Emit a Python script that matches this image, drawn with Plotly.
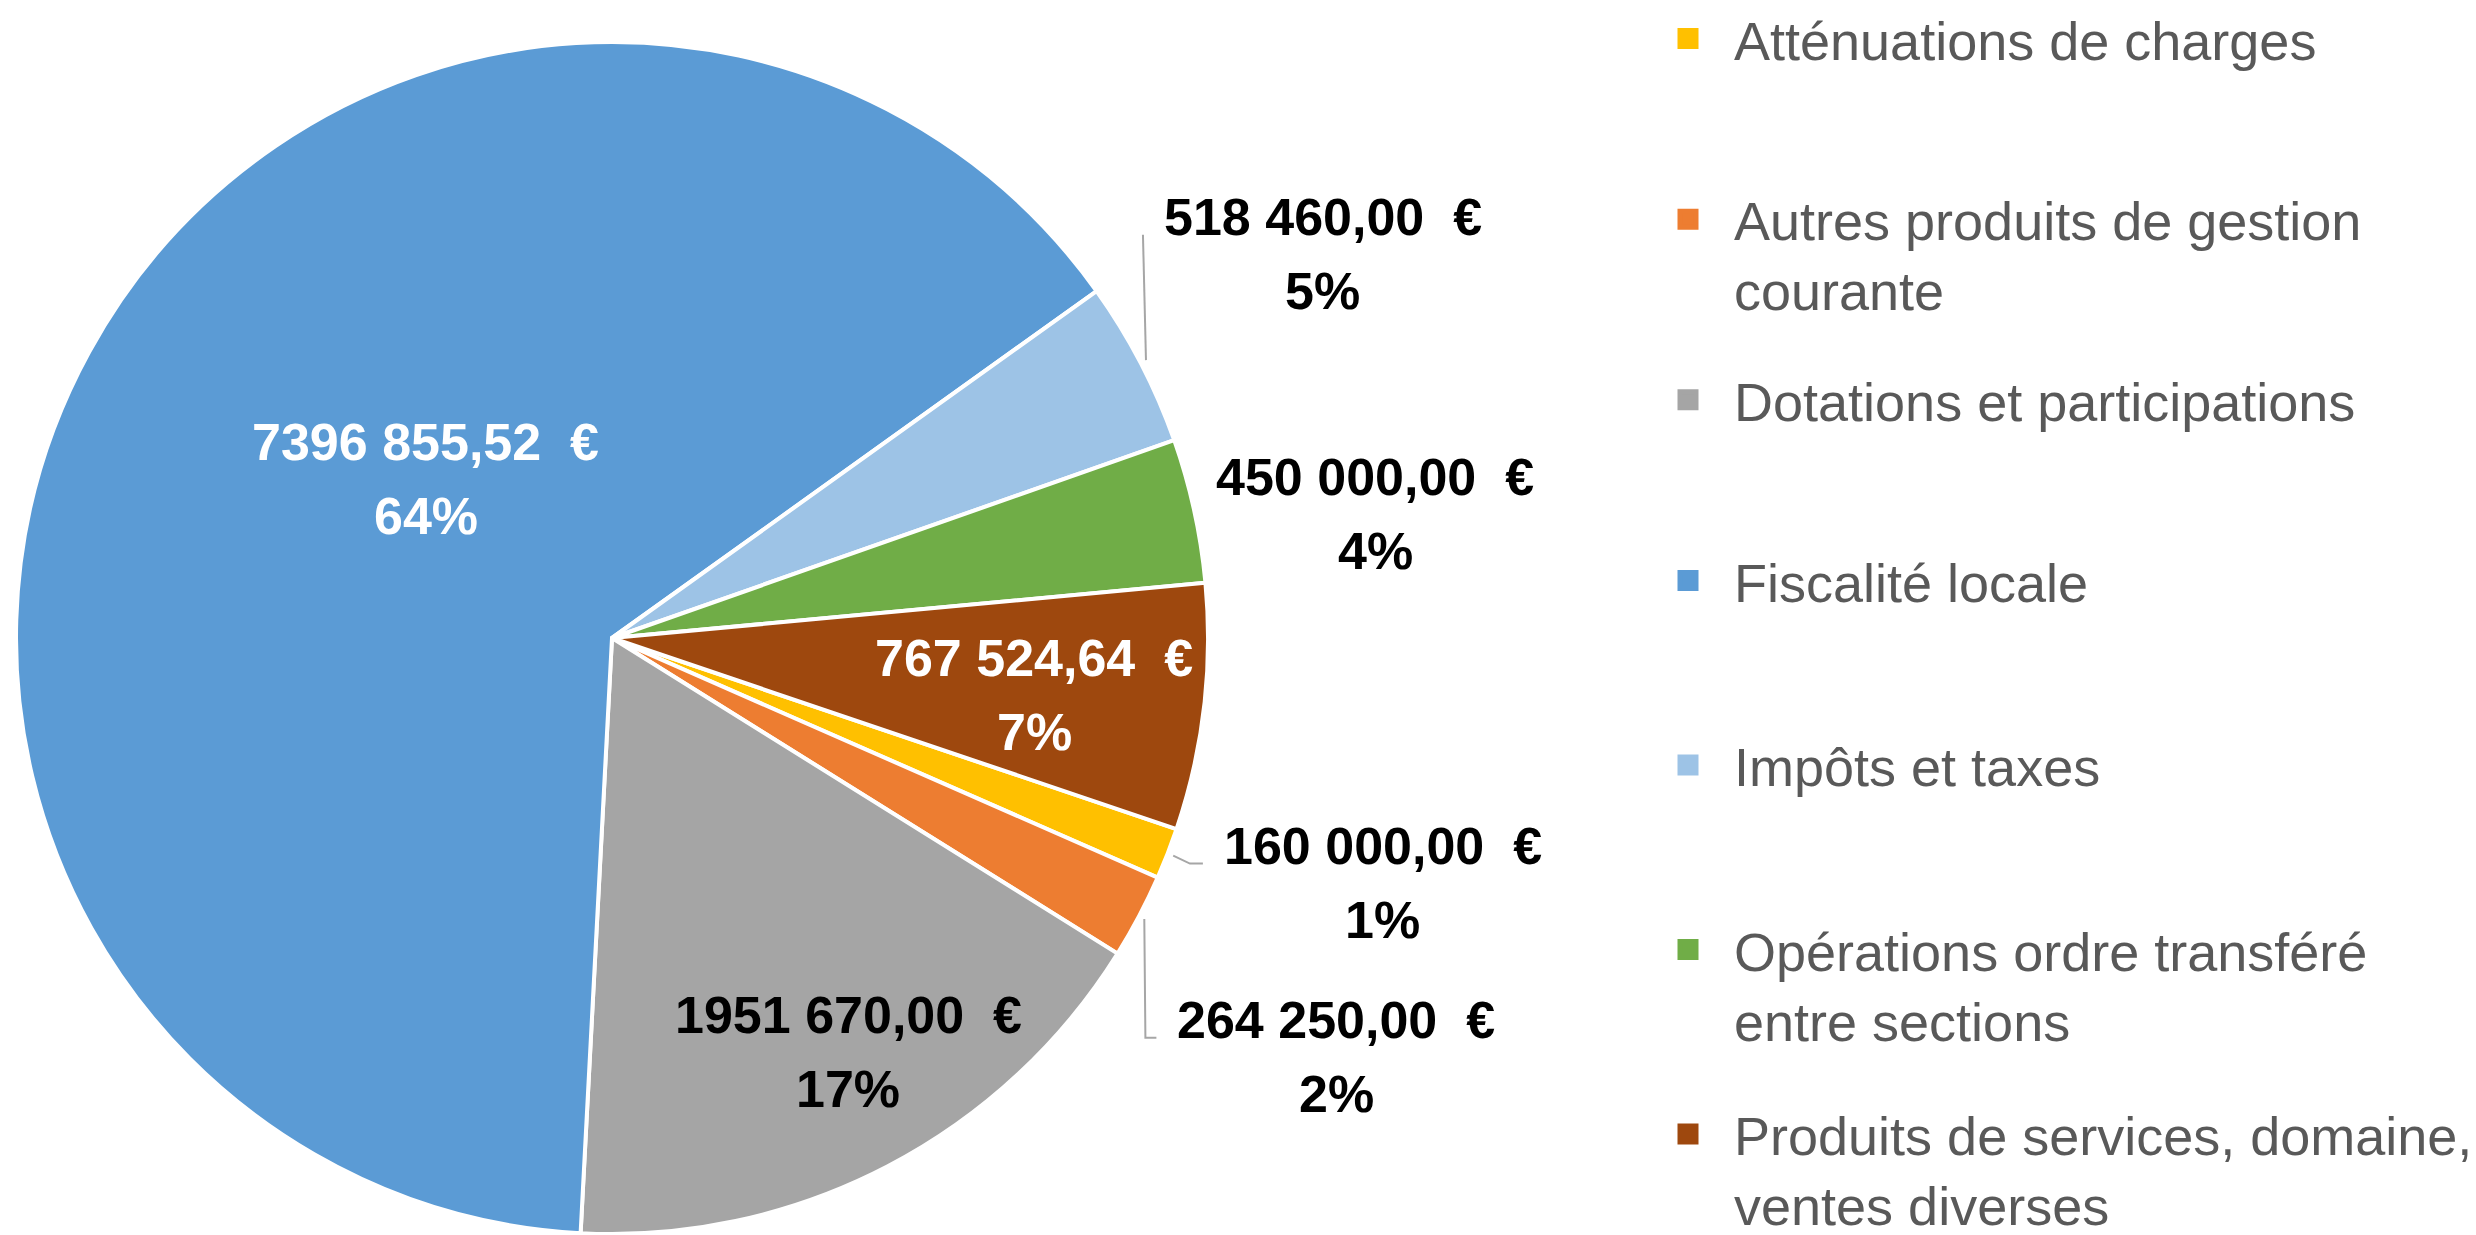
import math
import plotly.graph_objects as go

# ---------------- data ----------------
categories = [
    "Atténuations de charges",
    "Autres produits de gestion courante",
    "Dotations et participations",
    "Fiscalité locale",
    "Impôts et taxes",
    "Opérations ordre transféré entre sections",
    "Produits de services, domaine, ventes diverses",
]
legend_names = [
    "Atténuations de charges<br>\u00a0",
    "Autres produits de gestion<br>courante",
    "Dotations et participations<br>\u00a0",
    "Fiscalité locale<br>\u00a0",
    "Impôts et taxes<br>\u00a0",
    "Opérations ordre transféré<br>entre sections",
    "Produits de services, domaine,<br>ventes diverses",
]
values = [160000.00, 264250.00, 1951670.00, 7396855.52, 518460.00, 450000.00, 767524.64]

# ---------------- style ----------------
colors = ["#FFC000", "#ED7D31", "#A5A5A5", "#5B9BD5", "#9DC3E6", "#70AD47", "#9E480E"]
text_colors = ["#000000", "#000000", "#000000", "#FFFFFF", "#000000", "#000000", "#FFFFFF"]
label_dist = [1.357, 1.404, 0.80, 0.411, 1.356, 1.297, 0.715]      # fraction of radius
label_shift = [-3.6, 2.2, -2.2, 11.8, -0.9, 3.15, 1.0]             # degrees from slice middle
leader_elbow = [13, 11, None, None, 0, None, None]                 # px, None = no leader
legend_ids = ["legend", "legend", "legend", "legend", "legend2", "legend2", "legend2"]

PAGE_OFF = 8                       # default body margin of the html page
W, H = 2476 - PAGE_OFF, 1235 - PAGE_OFF
CX, CY, R = 612 - PAGE_OFF, 638 - PAGE_OFF, 596   # pie centre / radius (figure px)
ROTATION = 108.7
FONT = "Liberation Sans, Arial, sans-serif"
LEG_FS = 54
ITEM_H = 2 * LEG_FS * 1.3 + 3      # plotly legend item height (2 lines)
FIRST_LINE_OFF = 43.5              # legend top -> centre of first text line


def X(px):
    return px / W


def Y(py):
    return 1 - py / H


def fmt_value(v):
    cents = int(round(v * 100))
    euros, c = divmod(cents, 100)
    thousands, units = divmod(euros, 1000)
    return f"{thousands} {units:03d},{c:02d}\u00a0 €"


total = sum(values)

fig = go.Figure()
fig.add_trace(go.Pie(
    labels=categories,
    values=values,
    sort=False,
    direction="clockwise",
    rotation=ROTATION,
    marker=dict(colors=colors, line=dict(color="white", width=4)),
    textinfo="none",
    hoverinfo="skip",
    showlegend=False,
    domain=dict(x=[X(CX - R), X(CX + R)], y=[max(0, Y(CY + R)), Y(CY - R)]),
))

# legend entries
for i, (name, col) in enumerate(zip(legend_names, colors)):
    fig.add_trace(go.Scatter(
        x=[None], y=[None], mode="markers", name=name,
        legendgroup=f"g{i}", legend=legend_ids[i],
        marker=dict(symbol="square", size=16, color=col, line=dict(color=col, width=5)),
        hoverinfo="skip",
    ))

annotations = []
shapes = []
cum = 0.0
for i, v in enumerate(values):
    start = ROTATION + 360 * cum / total
    mid = start + 180 * v / total
    cum += v
    th = math.radians(mid + label_shift[i])
    lx = CX + label_dist[i] * R * math.sin(th)
    ly = CY - label_dist[i] * R * math.cos(th)
    pct = f"{round(100 * v / total):d}%"
    for txt, dy in ((fmt_value(v), -37), (pct, 37)):
        annotations.append(dict(
            x=X(lx), y=Y(ly + dy), xref="paper", yref="paper",
            text=txt, showarrow=False, xanchor="center", yanchor="middle",
            font=dict(family=FONT, size=52, color=text_colors[i], weight="bold"),
        ))
    if leader_elbow[i] is not None:
        tm = math.radians(mid)
        sx = CX + 1.01 * R * math.sin(tm)
        sy = CY - 1.01 * R * math.cos(tm)
        ex, ey = lx - 180, ly - 19
        bx = ex - leader_elbow[i]
        path = f"M {X(sx)},{Y(sy)} L {X(bx)},{Y(ey)} L {X(ex)},{Y(ey)}"
        shapes.append(dict(type="path", path=path, xref="paper", yref="paper",
                           line=dict(color="#A6A6A6", width=2)))

legend_style = dict(
    xanchor="left",
    font=dict(family=FONT, size=LEG_FS, color="#595959"),
    itemwidth=82, valign="top",
    bgcolor="rgba(0,0,0,0)", itemclick=False, itemdoubleclick=False,
)
LEG_X = 1634
# legend 1 (4 items): first text line at window y=41, last at 583
first1, last1 = 41, 583
gap1 = (last1 - first1) / 3 - ITEM_H
top1 = first1 - PAGE_OFF - FIRST_LINE_OFF
bottom1 = top1 + 4 * ITEM_H + 3 * gap1 + 10
# legend 2 (3 items): first text line at window y=767
gap2 = 41
top2 = 767 - PAGE_OFF - FIRST_LINE_OFF

fig.update_layout(
    width=W, height=H,
    margin=dict(l=0, r=0, t=0, b=0, autoexpand=False),
    paper_bgcolor="white", plot_bgcolor="white",
    xaxis=dict(visible=False), yaxis=dict(visible=False),
    annotations=annotations, shapes=shapes,
    legend=dict(x=X(LEG_X), y=Y(bottom1), yanchor="bottom", tracegroupgap=gap1, **legend_style),
    legend2=dict(x=X(LEG_X), y=Y(top2), yanchor="top", tracegroupgap=gap2, **legend_style),
    showlegend=True,
)

fig.write_html("out.html")
